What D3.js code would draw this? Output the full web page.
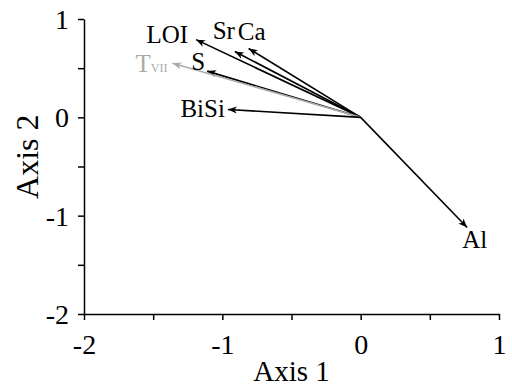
<!DOCTYPE html>
<html>
<head>
<meta charset="utf-8">
<script src="https://cdn.jsdelivr.net/npm/d3@7"></script>
<style>
  body { margin: 0; background: #fff; }
  svg text { font-family: 'Liberation Serif', Tinos, 'Times New Roman', Times, serif; }
</style>
</head>
<body>
<div id="chart"></div>
<script>
// Data
const variables = ['LOI', 'Sr', 'Ca', 'S', 'T', 'BiSi', 'Al']
const subscripts = ['', '', '', '', 'VII', '', '']
const axis1Scores = [-1.19, -0.91, -0.81, -1.11, -1.36, -0.96, 0.77]
const axis2Scores = [0.79, 0.67, 0.70, 0.47, 0.55, 0.08, -1.12]
const passive = [false, false, false, false, true, false, false]
const tickValues = [-2, -1.5, -1, -0.5, 0, 0.5, 1]

const dataset = variables.map((v, i) => ({
  name: v, sub: subscripts[i], x: axis1Scores[i], y: axis2Scores[i], passive: passive[i]
}))

// label placement relative to arrow tip (px)
const labelPos = {
  LOI: { dx: -8, dy: 3, anchor: 'end' },
  Sr: { dx: -11, dy: -12, anchor: 'middle' },
  Ca: { dx: 3, dy: -9, anchor: 'middle' },
  S: { dx: -2, dy: -1, anchor: 'end' },
  T: { dx: -5, dy: 9, anchor: 'end' },
  BiSi: { dx: -3, dy: 8, anchor: 'end' },
  Al: { dx: -5, dy: 21, anchor: 'start' }
}

// Dimensions
let dimensions = {
  width: 512,
  height: 388,
  margin: { top: 19, bottom: 74, left: 84, right: 13 }
}
dimensions.ctrWidth = dimensions.width - dimensions.margin.left - dimensions.margin.right
dimensions.ctrHeight = dimensions.height - dimensions.margin.top - dimensions.margin.bottom

const svg = d3.select('#chart')
  .append('svg')
  .attr('width', dimensions.width)
  .attr('height', dimensions.height)

const defs = svg.append('defs')
defs.selectAll('marker')
  .data([['arrow-black', '#000'], ['arrow-grey', '#aaa']])
  .join('marker')
  .attr('id', d => d[0])
  .attr('viewBox', '-9 -4 10 8')
  .attr('refX', 0)
  .attr('refY', 0)
  .attr('markerWidth', 10)
  .attr('markerHeight', 8)
  .attr('markerUnits', 'userSpaceOnUse')
  .attr('orient', 'auto')
  .append('path')
  .attr('d', 'M0,0 L-9,-3.5 L-6.5,0 L-9,3.5 Z')
  .attr('fill', d => d[1])

const ctr = svg.append('g')
  .attr('transform', `translate(${dimensions.margin.left}, ${dimensions.margin.top})`)

// Scales
const xScale = d3.scaleLinear()
  .domain([-2, 1])
  .range([0, dimensions.ctrWidth])

const yScale = d3.scaleLinear()
  .domain([-2, 1])
  .range([dimensions.ctrHeight, 0])

const fmt = d => Number.isInteger(d) ? String(d) : ''

// Axes
const xAxisGroup = ctr.append('g')
  .attr('transform', `translate(0, ${dimensions.ctrHeight})`)
  .call(d3.axisBottom(xScale).tickValues(tickValues).tickFormat(fmt).tickSize(6).tickSizeOuter(0))

xAxisGroup.attr('font-family', null)
xAxisGroup.selectAll('text')
  .attr('y', 40)
  .attr('dy', 0)
  .attr('fill', '#000')
  .style('font-size', '28px')

const yAxisGroup = ctr.append('g')
  .call(d3.axisLeft(yScale).tickValues(tickValues).tickFormat(fmt).tickSize(6).tickSizeOuter(0))

yAxisGroup.attr('font-family', null)
yAxisGroup.selectAll('text')
  .attr('x', -15)
  .attr('dy', '0.34em')
  .attr('fill', '#000')
  .style('font-size', '28px')

ctr.selectAll('.domain, .tick line')
  .attr('stroke', '#000')
  .attr('stroke-width', 1.5)

svg.append('text')
  .text('Axis 1')
  .attr('x', dimensions.margin.left + xScale(-0.5))
  .attr('y', 381)
  .attr('text-anchor', 'middle')
  .style('font-size', '29px')

svg.append('text')
  .text('Axis 2')
  .attr('transform', `translate(38, ${dimensions.margin.top + yScale(-0.4)}) rotate(-90)`)
  .attr('text-anchor', 'middle')
  .style('font-size', '32px')

// Arrows
ctr.append('g')
  .selectAll('line')
  .data(dataset)
  .join('line')
  .attr('x1', xScale(0))
  .attr('y1', yScale(0))
  .attr('x2', d => xScale(d.x))
  .attr('y2', d => yScale(d.y))
  .attr('stroke', d => d.passive ? '#aaa' : '#000')
  .attr('stroke-width', 1.6)
  .attr('marker-end', d => d.passive ? 'url(#arrow-grey)' : 'url(#arrow-black)')

// Labels
const labels = ctr.append('g')
  .selectAll('text')
  .data(dataset)
  .join('text')
  .attr('x', d => xScale(d.x) + labelPos[d.name].dx)
  .attr('y', d => yScale(d.y) + labelPos[d.name].dy)
  .attr('text-anchor', d => labelPos[d.name].anchor)
  .attr('fill', d => d.passive ? '#aaa' : '#000')
  .style('font-size', '25px')

labels.append('tspan').text(d => d.name)
labels.filter(d => d.sub)
  .append('tspan')
  .text(d => d.sub)
  .style('font-size', '12px')
</script>
</body>
</html>
